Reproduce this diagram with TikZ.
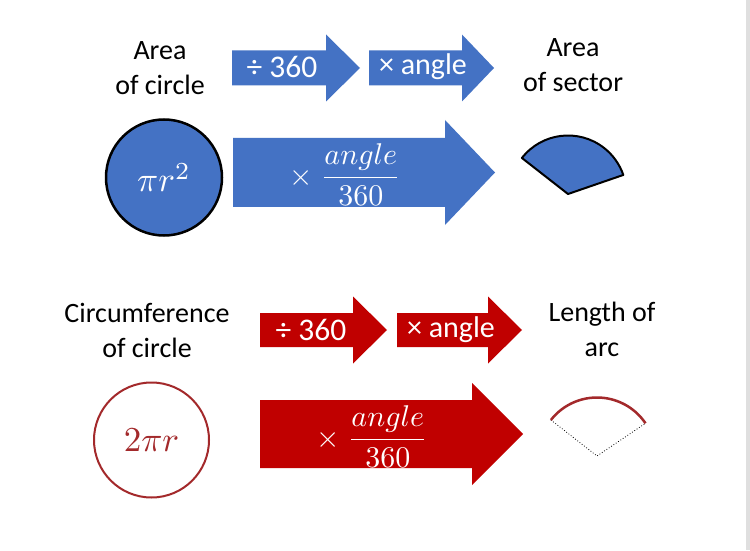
\documentclass[tikz,border=0pt]{standalone}
\usepackage{amsmath}
\usepackage{graphicx}
\usepackage{fontspec}
\setmainfont{Carlito}
\usetikzlibrary{calc}
\definecolor{offblue}{HTML}{4472C4}
\definecolor{offred}{HTML}{C00000}
\definecolor{brick}{HTML}{A3292B}
\newcommand\arrowpoly[7]{%
  \fill[#7] (#1,#4-#5) -- (#2,#4-#5) -- (#2,#4-#6) -- (#3,#4) -- (#2,#4+#6) -- (#2,#4+#5) -- (#1,#4+#5) -- cycle;}
\newcommand\bigmath[2]{\scalebox{#1}{\normalsize$#2$}}
\tikzset{
  lbl/.style={align=center, font=\fontsize{28}{35}\selectfont, text=black, inner sep=0pt},
  arrtxt/.style={font=\fontsize{30}{34}\selectfont, text=white, inner sep=0pt},
  fractxt/.style={text=white, inner sep=0pt},
}
\begin{document}
\begin{tikzpicture}[x=1pt,y=1pt]
\useasboundingbox (0,0) rectangle (750,550);
\fill[white] (0,0) rectangle (750,550);
\fill[gray!25] (746,0) rectangle (750,550);

% ---------- top half (area) ----------
\node[lbl] (areaC) at (160,482) {Area\\of circle};
\node[lbl] (areaS) at (573,485) {Area\\of sector};

\arrowpoly{232}{326}{360}{482}{17.5}{33.5}{offblue}
\arrowpoly{369}{462}{494}{482}{17.5}{33.5}{offblue}
\node[arrtxt, font=\fontsize{31.5}{34}\selectfont] (d1) at (282,483) {÷ 360};
\node[arrtxt] (m1) at (423,483) {× angle};

\node[circle, draw=black, line width=2.5pt, fill=offblue, minimum size=116, inner sep=0pt,
      text=white] (c1) at (164,372.5) {\bigmath{3.5}{\pi r^{2}}};

\arrowpoly{233}{445}{495}{377.5}{34.5}{52.5}{offblue}
\node[fractxt] (f1) at (345,375) {\bigmath{3}{\times\;\dfrac{angle}{360}}};

\draw[line width=2pt, fill=offblue, line join=round] (568,356) -- ++(142:58.5) arc[start angle=142, end angle=19, radius=58.5] -- cycle;

% ---------- bottom half (arc length) ----------
\node[lbl] (circC) at (147,220) {Circumference\\of circle};
\node[lbl] (lenA) at (602,221) {Length of\\arc};

\arrowpoly{260}{353}{387}{220}{17}{33.5}{offred}
\arrowpoly{397}{488}{522}{220}{17}{33.5}{offred}
\node[arrtxt, font=\fontsize{31.5}{34}\selectfont] (d2) at (311,220) {÷ 360};
\node[arrtxt] (m2) at (451,220) {× angle};

\node[circle, draw=brick, line width=2pt, minimum size=115, inner sep=0pt,
      text=brick] (c2) at (151.5,110) {\bigmath{3.5}{2\pi r}};

\arrowpoly{260}{472}{523}{116}{34}{51}{offred}
\node[fractxt] (f2) at (372,113) {\bigmath{3}{\times\;\dfrac{angle}{360}}};

\coordinate (o2) at (597,94);
\draw[dotted, line width=0.8pt] ($(o2)+(142:58.5)$) -- (o2) -- ($(o2)+(34:58.5)$);
\draw[brick, line width=2.5pt] ($(o2)+(142:58.5)$) arc[start angle=142, end angle=34, radius=58.5];
\end{tikzpicture}
\end{document}
